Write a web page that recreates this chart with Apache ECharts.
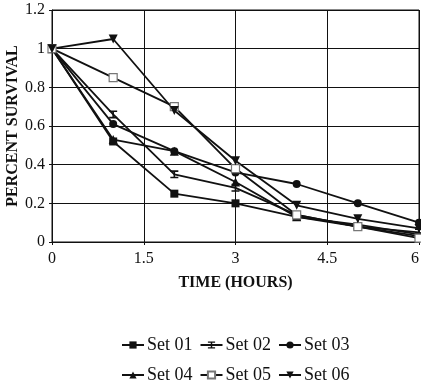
<!DOCTYPE html>
<html>
<head>
<meta charset="utf-8">
<style>
  html, body { margin: 0; padding: 0; background: #fff; }
  #chart { width: 421px; height: 381px; }
</style>
<script src="https://cdn.jsdelivr.net/npm/echarts@6/dist/echarts.min.js"></script>
</head>
<body>
<div id="chart"></div>
<script>
// Sampling times (hours)
const hours = [0, 1, 2, 3, 4, 5, 6];

// Survival fraction per set
const set01 = [1, 0.52, 0.25, 0.20, 0.13, 0.08, 0.03];
const set02 = [1, 0.66, 0.35, 0.28, 0.14, 0.08, 0.05];
const set03 = [1, 0.61, 0.47, 0.36, 0.30, 0.20, 0.10];
const set04 = [1, 0.53, 0.47, 0.31, 0.13, 0.09, 0.04];
const set05 = [1, 0.85, 0.70, 0.38, 0.14, 0.08, 0.02];
const set06 = [1, 1.05, 0.68, 0.42, 0.19, 0.12, 0.07];

const setNames = ['Set 01', 'Set 02', 'Set 03', 'Set 04', 'Set 05', 'Set 06'];
const xTicks = [0, 1.5, 3, 4.5, 6];

const serif = '"Liberation Serif", "DejaVu Serif", serif';

// I-beam marker (bars top and bottom joined by a stem)
const ibeam = 'path://M0,0 L10,0 L10,2 L6,2 L6,8 L10,8 L10,10 L0,10 L0,8 L4,8 L4,2 L0,2 Z';

const markers = [
  { symbol: 'rect', size: 8, rotate: 0, fill: '#111' },
  { symbol: ibeam, size: 8, rotate: 0, fill: '#111' },
  { symbol: 'circle', size: 8, rotate: 0, fill: '#111' },
  { symbol: 'triangle', size: 9, rotate: 0, fill: '#111' },
  { symbol: 'rect', size: 8, rotate: 0, fill: '#fff', stroke: '#777' },
  { symbol: 'triangle', size: 9, rotate: 180, fill: '#111' }
];

const values = [set01, set02, set03, set04, set05, set06];

const series = values.map((vals, i) => {
  const m = markers[i];
  return {
    name: setNames[i],
    type: 'line',
    data: hours.map((h, j) => [h, vals[j]]),
    symbol: m.symbol,
    symbolSize: m.size,
    symbolRotate: m.rotate,
    showAllSymbol: true,
    lineStyle: { color: '#111', width: 1.8 },
    itemStyle: {
      color: m.fill,
      borderColor: m.stroke || '#111',
      borderWidth: m.stroke ? 1.2 : 0
    },
    emphasis: { disabled: true },
    z: 3
  };
});

const legendBase = {
  orient: 'horizontal',
  itemWidth: 22,
  itemHeight: 9,
  itemGap: 7,
  textStyle: { fontFamily: serif, fontSize: 18, color: '#111', padding: [0, 0, 0, -2] },
  selectedMode: false
};

const chart = echarts.init(document.getElementById('chart'), null, { renderer: 'canvas' });
chart.setOption({
  backgroundColor: '#fff',
  animation: false,
  grid: {
    left: 52, right: 2, top: 10, bottom: 139,
    containLabel: false,
    outerBoundsMode: 'none',
    show: true, borderColor: '#111', borderWidth: 1
  },
  xAxis: {
    type: 'value',
    min: 0, max: 6, interval: 1.5,
    name: 'TIME (HOURS)',
    nameLocation: 'middle',
    nameGap: 33,
    nameMoveOverlap: false,
    nameTextStyle: { fontFamily: serif, fontSize: 16, fontWeight: 'bold', color: '#111' },
    axisLine: { show: true, lineStyle: { color: '#111', width: 1 } },
    axisTick: { show: true, length: 3, lineStyle: { color: '#111' } },
    axisLabel: {
      fontFamily: serif, fontSize: 16, color: '#111', margin: 9,
      alignMaxLabel: 'right',
      formatter: v => xTicks.includes(v) ? String(v) : ''
    },
    splitLine: { show: true, lineStyle: { color: '#111', width: 1 } }
  },
  yAxis: {
    type: 'value',
    min: 0, max: 1.2, interval: 0.2,
    name: 'PERCENT SURVIVAL',
    nameLocation: 'middle',
    nameGap: 31,
    nameMoveOverlap: false,
    nameTextStyle: { fontFamily: serif, fontSize: 16, fontWeight: 'bold', color: '#111' },
    axisLine: { show: true, lineStyle: { color: '#111', width: 1 } },
    axisTick: { show: true, length: 3, lineStyle: { color: '#111' } },
    axisLabel: {
      fontFamily: serif, fontSize: 16, color: '#111', margin: 7,
      formatter: v => String(Math.round(v * 10) / 10)
    },
    splitLine: { show: true, lineStyle: { color: '#111', width: 1 } }
  },
  legend: [
    Object.assign({}, legendBase, { data: setNames.slice(0, 3), left: 116, top: 331 }),
    Object.assign({}, legendBase, { data: setNames.slice(3), left: 116, top: 361 })
  ],
  series: series
});
</script>
</body>
</html>
